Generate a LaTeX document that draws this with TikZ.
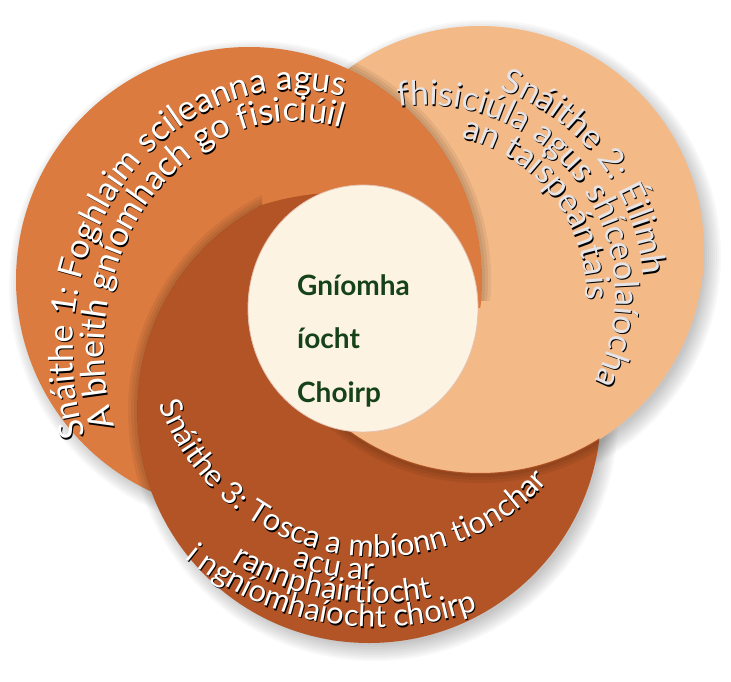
\documentclass[tikz,border=0pt]{standalone}
\usepackage{fontspec}
\setmainfont{Lato}
\usetikzlibrary{decorations.text}

\definecolor{strandone}{RGB}{220,123,64}
\definecolor{strandtwo}{RGB}{243,185,135}
\definecolor{strandthree}{RGB}{178,84,38}
\definecolor{corefill}{RGB}{253,243,226}
\definecolor{coretext}{RGB}{22,66,26}
\definecolor{palelabel}{RGB}{230,228,230}

\newcommand*{\rone}{233}
\newcommand*{\rtwo}{224}
\newcommand*{\rthree}{232}

% text set on an arc, with a faint shadow:
% centre, radius, from, to, colour, align, size, text
\newcommand{\arclabel}[8]{%
  \path[decorate, opacity=0.12, decoration={text along path, text color=black,
    text align=#6, text={|\fontsize{#7}{#7}\selectfont|#8}}]
    ([shift={(1,-1.4)}]#1) ++(#3:#2) arc (#3:#4:#2);
  \path[decorate, decoration={text along path, text color=#5,
    text align=#6, text={|\fontsize{#7}{#7}\selectfont|#8}}]
    (#1) ++(#3:#2) arc (#3:#4:#2);}

\begin{document}
\begin{tikzpicture}[x=1pt, y=1pt,
    shade/.style={black, opacity=0.028},
    rim/.style={black, opacity=0.06, line width=#1},
    corelabel/.style={anchor=base west, inner sep=0pt, text=coretext,
      font=\bfseries\fontsize{28}{28}\selectfont}]
  \useasboundingbox (0,0) rectangle (731,-682);
  \coordinate (c1) at (249,-280);
  \coordinate (c2) at (480,-250);
  \coordinate (c3) at (369,-411);
  \coordinate (tail) at (343.5,-464.5);
  \coordinate (mid) at (363,-308.5);

  % soft shadows
  \foreach \s in {-4,-2,...,12} {
    \fill[shade] ([shift={(5,-6)}]c1) circle (\rone+\s);
    \fill[shade] ([shift={(5,-6)}]c2) circle (\rtwo+\s);
    \fill[shade] ([shift={(5,-6)}]c3) circle (\rthree+\s);
  }

  % the three strands, each one lying over the next
  \fill[strandtwo] (c2) circle (\rtwo);
  \fill[strandone] (c1) circle (\rone);
  \begin{scope}
    \clip (c1) circle (\rone+1.5);
    \clip (c3) circle (\rthree);
    \clip (0,-308.5) rectangle (731,-682);
    \fill[strandtwo] (c2) circle (\rtwo);
  \end{scope}
  \begin{scope}
    \clip (c3) circle (\rthree);
    \fill[strandthree, even odd rule] (0,0) rectangle (731,-682) (c2) circle (\rtwo-1);
  \end{scope}
  \begin{scope}
    \clip (c1) circle (\rone);
    \clip (c2) circle (\rtwo+1.5);
    \clip (c3) circle (\rthree);
    \clip (tail) circle (272);
    \fill[strandthree] (0,-308.5) rectangle (363,0);
  \end{scope}

  % shade where one strand falls on the next
  \begin{scope}
    \clip (c2) circle (\rtwo);
    \clip (0,0) rectangle (731,-300);
    \foreach \w in {3,6,9} \draw[rim=\w] (c1) circle (\rone+0.5*\w);
  \end{scope}
  \begin{scope}
    \clip (c1) circle (\rone);
    \clip (0,0) rectangle (262,-682);
    \foreach \w in {3,6,9} \draw[rim=\w] (c3) circle (\rthree+0.5*\w);
  \end{scope}
  \begin{scope}
    \clip (c3) circle (\rthree);
    \clip (300,-330) rectangle (731,-682);
    \foreach \w in {3,6,9} \draw[rim=\w] (c2) circle (\rtwo+0.5*\w);
  \end{scope}

  \filldraw[fill=corefill, draw=strandthree!35, line width=0.8]
    (mid) ellipse [x radius=115, y radius=123.5];
  \node[corelabel] (core1) at (297,-295) {Gníomha};
  \node[corelabel] (core2) at (297,-348) {íocht};
  \node[corelabel] (core3) at (297,-402) {Choirp};

  \coordinate (t1) at (295,-350);
  \arclabel{t1}{222 and 260}{199.3}{30}{white}{left}{34}{Snáithe 1: Foghlaim scileanna agus}
  \arclabel{t1}{191 and 229}{199.6}{30}{white}{left}{34}{A bheith gníomhach go fisiciúil}
  \coordinate (t2) at (425,-295);
  \arclabel{t2}{219}{70}{-60}{palelabel}{left}{34}{Snáithe 2: Éilimh}
  \arclabel{t2}{190}{98}{-60}{palelabel}{left}{34}{fhisiciúla agus shíceolaíocha}
  \arclabel{t2}{161}{77}{-60}{palelabel}{left}{34}{an taispeántais}
  \coordinate (t3) at (377,-325);
  \arclabel{t3}{232}{200}{340}{white}{left}{31}{Snáithe 3: Tosca a mbíonn tionchar}
  \arclabel{t3}{255}{200}{320}{white}{center}{31}{acu ar}
  \arclabel{t3}{278}{200}{320}{white}{center}{31}{rannpháirtíocht}
  \arclabel{t3}{302}{200}{320}{white}{center}{31}{i ngníomhaíocht choirp}
\end{tikzpicture}
\end{document}
